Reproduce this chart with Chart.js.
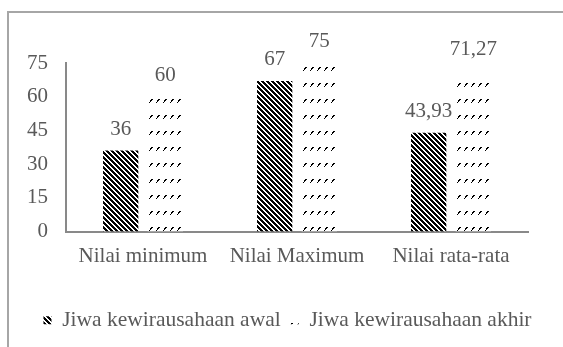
<!DOCTYPE html>
<html>
<head>
<meta charset="utf-8">
<script src="https://cdn.jsdelivr.net/npm/chart.js@4/dist/chart.umd.min.js"></script>
<style>
    html, body { margin: 0; padding: 0; background: #fff; }
    #myChart { display: block; }
</style>
</head>
<body>
<canvas id="myChart" width="563" height="347"></canvas>
<script>
// Data của chart
const categories = ["Nilai minimum", "Nilai Maximum", "Nilai rata-rata"];
const seriesNames = ["Jiwa kewirausahaan awal", "Jiwa kewirausahaan akhir"];
const nilaiAwal = [36, 67, 43.93];
const nilaiAkhir = [60, 75, 71.27];
const yTicks = [0, 15, 30, 45, 60, 75];

const textColor = "#595959";
const fontFamily = "'Liberation Serif', 'Times New Roman', serif";

// Pattern sọc chéo đậm (\\\)
function makeStripePattern() {
    let c = document.createElement("canvas");
    c.width = 5; c.height = 5;
    let g = c.getContext("2d");
    g.fillStyle = "#fff";
    g.fillRect(0, 0, 5, 5);
    g.fillStyle = "#000";
    for (let y = 0; y < 5; y++) {
        for (let x = 0; x < 5; x++) {
            if (((x - y) % 5 + 5) % 5 < 3) g.fillRect(x, y, 1, 1);
        }
    }
    return g.createPattern(c, "repeat");
}

// Pattern gạch ngắn chéo lên (////)
function makeDashPattern() {
    let c = document.createElement("canvas");
    c.width = 7; c.height = 16;
    let g = c.getContext("2d");
    g.fillStyle = "#fff";
    g.fillRect(0, 0, 7, 16);
    g.fillStyle = "#000";
    let pts = [[5, 3], [4, 4], [3, 5], [2, 6], [4, 3], [3, 4]];
    pts.forEach(p => g.fillRect(p[0], p[1], 1, 1));
    return g.createPattern(c, "repeat");
}

// Khung viền ngoài
const framePlugin = {
    id: "frame",
    beforeDraw(chart) {
        const ctx = chart.ctx;
        ctx.save();
        ctx.strokeStyle = "#a6a6a6";
        ctx.lineWidth = 2;
        ctx.beginPath();
        ctx.moveTo(8, 347);
        ctx.lineTo(8, 12);
        ctx.lineTo(563, 12);
        ctx.stroke();
        ctx.restore();
    }
};

// Dời legend sang phải một chút cho giống hình gốc
const legendShiftPlugin = {
    id: "legendShift",
    afterLayout(chart) {
        if (chart.legend) {
            chart.legend.left += 23.5;
            chart.legend.right += 23.5;
        }
    }
};

// Nhãn giá trị trên mỗi cột
const valueLabelPlugin = {
    id: "valueLabels",
    afterDatasetsDraw(chart) {
        const ctx = chart.ctx;
        ctx.save();
        ctx.font = "21px " + fontFamily;
        ctx.fillStyle = textColor;
        ctx.textAlign = "center";
        ctx.textBaseline = "alphabetic";
        chart.data.datasets.forEach((ds, i) => {
            chart.getDatasetMeta(i).data.forEach((bar, j) => {
                let txt = String(ds.data[j]).replace(".", ",");
                ctx.fillText(txt, bar.x, bar.y - 16);
            });
        });
        ctx.restore();
    }
};

const bieudo = {

    render: function () {
        const ctx = document.getElementById("myChart").getContext("2d");

        let myChart = new Chart(ctx, {
            type: "bar",
            data: {
                labels: categories,
                datasets: [
                    {
                        label: seriesNames[0],
                        data: nilaiAwal,
                        backgroundColor: makeStripePattern(),
                        borderWidth: 0,
                    },
                    {
                        label: seriesNames[1],
                        data: nilaiAkhir,
                        backgroundColor: makeDashPattern(),
                        borderWidth: 0,
                    }
                ]
            },
            options: {
                responsive: false,
                animation: false,
                devicePixelRatio: 1,
                layout: {
                    padding: { top: 63, right: 35, bottom: 6, left: 0 }
                },
                datasets: {
                    bar: { categoryPercentage: 0.58, barPercentage: 0.79 }
                },
                scales: {
                    x: {
                        grid: { display: false, drawTicks: false },
                        border: { display: true, color: "#898989", width: 2 },
                        ticks: {
                            color: textColor,
                            padding: 12,
                            maxRotation: 0,
                            font: { family: fontFamily, size: 21 }
                        },
                        afterFit: function (scale) { scale.height = 68; }
                    },
                    y: {
                        min: yTicks[0],
                        max: yTicks[yTicks.length - 1],
                        grid: { display: false, drawTicks: false },
                        border: { display: true, color: "#898989", width: 2 },
                        ticks: {
                            stepSize: yTicks[1] - yTicks[0],
                            color: textColor,
                            padding: 18,
                            font: { family: fontFamily, size: 21 }
                        },
                        afterFit: function (scale) { scale.width = 66; }
                    }
                },
                plugins: {
                    legend: {
                        position: "bottom",
                        labels: {
                            boxWidth: 8,
                            boxHeight: 8,
                            padding: 10,
                            color: textColor,
                            font: { family: fontFamily, size: 21.5 }
                        }
                    },
                    tooltip: { enabled: false }
                }
            },
            plugins: [framePlugin, legendShiftPlugin, valueLabelPlugin]
        });
    },

    start: async function () {
        // Đợi font Liberation Serif load xong rồi mới vẽ
        try {
            await document.fonts.load("21px 'Liberation Serif'");
        } catch (e) {}
        this.render();
    }
}

bieudo.start();
</script>
</body>
</html>
